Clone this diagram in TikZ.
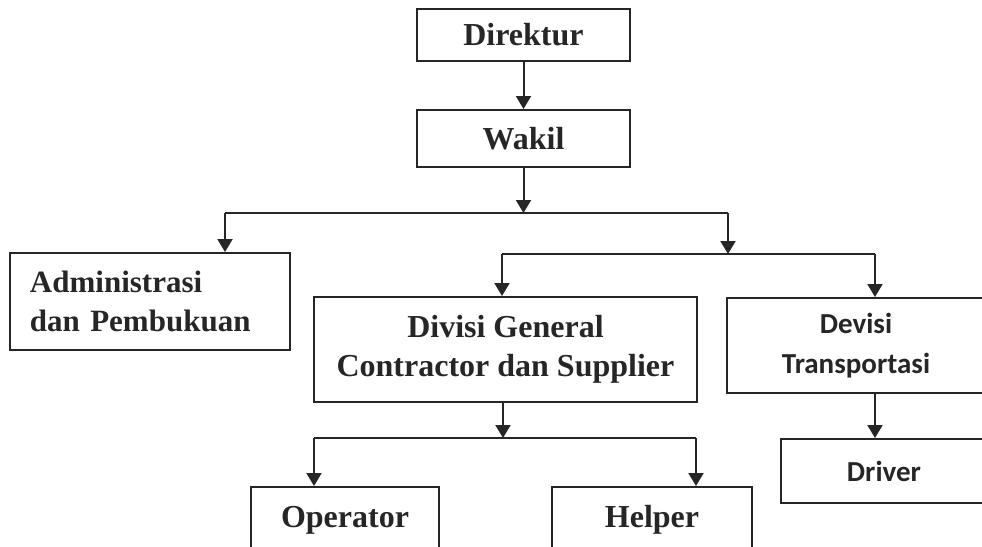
\documentclass[tikz,border=0pt]{standalone}
\usepackage{fontspec}
\setmainfont{Liberation Serif}
\newfontfamily\calibri{Carlito}
\usetikzlibrary{arrows.meta}

\begin{document}
\begin{tikzpicture}[x=0.5pt,y=-0.5pt,
  unit/.style={draw=black!85,line width=1pt,inner sep=0pt,align=center,
    text=black!85,font=\fontsize{16}{19.5}\selectfont\bfseries},
  unitc/.style={unit,font=\calibri\fontsize{14.5}{20}\selectfont\bfseries},
  bus/.style={draw=black!85,line width=1pt},
  arr/.style={bus,-{Triangle[width=7.5pt,length=6.5pt]}}]
  \useasboundingbox (0,0) rectangle (982,547);
  \clip (0,0) rectangle (982,547);
  % boxes
  \node[unit,minimum width=106.5pt,minimum height=26pt] (dir) at (523.5,35) {Direktur};
  \node[unit,minimum width=106.5pt,minimum height=28.5pt] (wakil) at (523.5,138.5) {Wakil};
  \node[unit,font=\fontsize{15.5}{19.5}\selectfont\bfseries,text width=120pt,inner xsep=10pt,
    minimum height=48.5pt,align=left] (adm) at (150,301.5) {Administrasi\\dan Pembukuan};
  \node[unit,minimum width=191.5pt,minimum height=52.5pt] (dgc) at (505.5,349.5) {Divisi General\\Contractor dan Supplier};
  \node[unitc,minimum width=129pt,minimum height=47.5pt] (trans) at (856,345.5) {Devisi\\Transportasi};
  \node[unitc,minimum width=103pt,minimum height=32pt] (driver) at (884,471) {Driver};
  \node[unit,minimum width=94pt,minimum height=33pt] (oper) at (345,520) {Operator};
  \node[unit,minimum width=100pt,minimum height=33pt] (help) at (652,520) {Helper};
  % bus points
  \coordinate (b1) at (523.5,213);
  \coordinate (b1l) at (225,213);
  \coordinate (b1r) at (728,213);
  \coordinate (b2) at (728,254);
  \coordinate (b2l) at (502,254);
  \coordinate (b2r) at (875,254);
  \coordinate (b3) at (503,438);
  \coordinate (b3l) at (314,438);
  \coordinate (b3r) at (696,438);
  % lines
  \draw[arr] (dir) -- (wakil);
  \draw[arr] (wakil) -- (b1);
  \draw[bus] (b1l) -- (b1r);
  \draw[arr] (b1l) -- (b1l |- adm.north);
  \draw[arr] (b1r) -- (b2);
  \draw[bus] (b2l) -- (b2r);
  \draw[arr] (b2l) -- (b2l |- dgc.north);
  \draw[arr] (b2r) -- (b2r |- trans.north);
  \draw[arr] (b2r |- trans.south) -- (b2r |- driver.north);
  \draw[arr] (b3 |- dgc.south) -- (b3);
  \draw[bus] (b3l) -- (b3r);
  \draw[arr] (b3l) -- (b3l |- oper.north);
  \draw[arr] (b3r) -- (b3r |- help.north);
\end{tikzpicture}
\end{document}
